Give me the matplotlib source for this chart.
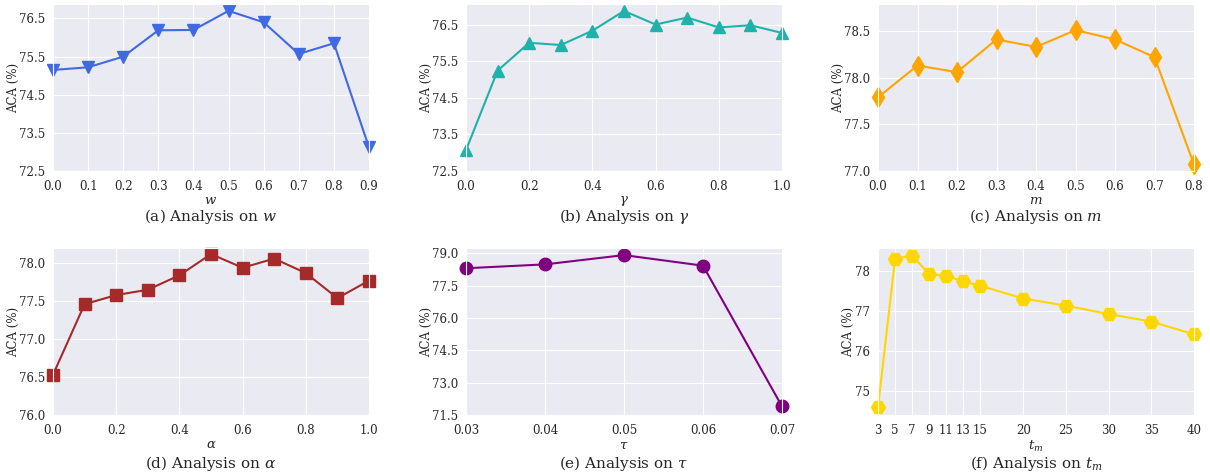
import matplotlib
matplotlib.use("Agg")
import matplotlib.pyplot as plt
import seaborn as sns

sns.set_style("darkgrid")
plt.rcParams["font.family"] = ["DejaVu Serif"]
plt.rcParams["mathtext.fontset"] = "dejavuserif"

# (a) w
w_x = [0.0, 0.1, 0.2, 0.3, 0.4, 0.5, 0.6, 0.7, 0.8, 0.9]
w_y = [75.15, 75.22, 75.50, 76.19, 76.20, 76.70, 76.40, 75.57, 75.85, 73.12]
# (b) gamma
g_x = [0.0, 0.1, 0.2, 0.3, 0.4, 0.5, 0.6, 0.7, 0.8, 0.9, 1.0]
g_y = [73.07, 75.24, 76.00, 75.94, 76.33, 76.87, 76.50, 76.69, 76.42, 76.48, 76.27]
# (c) m
m_x = [0.0, 0.1, 0.2, 0.3, 0.4, 0.5, 0.6, 0.7, 0.8]
m_y = [77.79, 78.13, 78.06, 78.41, 78.33, 78.51, 78.41, 78.22, 77.07]
# (d) alpha
a_x = [0.0, 0.1, 0.2, 0.3, 0.4, 0.5, 0.6, 0.7, 0.8, 0.9, 1.0]
a_y = [76.53, 77.46, 77.58, 77.65, 77.84, 78.12, 77.94, 78.06, 77.87, 77.54, 77.77]
# (e) tau
t_x = [0.03, 0.04, 0.05, 0.06, 0.07]
t_y = [78.31, 78.49, 78.92, 78.43, 71.90]
# (f) t_m
tm_x = [3, 5, 7, 9, 11, 13, 15, 20, 25, 30, 35, 40]
tm_y = [74.58, 78.32, 78.40, 77.93, 77.89, 77.75, 77.64, 77.32, 77.14, 76.93, 76.74, 76.42]

panels = [
    (w_x, w_y, "v", 9, "royalblue", r"$w$", "(a) Analysis on $w$",
     w_x, [72.5, 73.5, 74.5, 75.5, 76.5], (72.5, 76.88)),
    (g_x, g_y, "^", 9, "lightseagreen", r"$\gamma$", r"(b) Analysis on $\gamma$",
     [0.0, 0.2, 0.4, 0.6, 0.8, 1.0], [72.5, 73.5, 74.5, 75.5, 76.5], (72.5, 77.06)),
    (m_x, m_y, "d", 10.5, "orange", r"$m$", "(c) Analysis on $m$",
     m_x, [77.0, 77.5, 78.0, 78.5], (77.0, 78.79)),
    (a_x, a_y, "s", 9, "brown", r"$\alpha$", r"(d) Analysis on $\alpha$",
     [0.0, 0.2, 0.4, 0.6, 0.8, 1.0], [76.0, 76.5, 77.0, 77.5, 78.0], (76.0, 78.2)),
    (t_x, t_y, "o", 9, "purple", r"$\tau$", r"(e) Analysis on $\tau$",
     t_x, [71.5, 73.0, 74.5, 76.0, 77.5, 79.0], (71.5, 79.25)),
    (tm_x, tm_y, "H", 10, "gold", r"$t_m$", "(f) Analysis on $t_m$",
     tm_x, [75, 76, 77, 78], None),
]

fig = plt.figure(figsize=(12.1, 4.75), dpi=100)
lefts = [53, 466, 878]
tops = [4, 248]
W, H = 1210, 475
for i, (x, y, mk, ms, col, xl, cap, xt, yt, yl) in enumerate(panels):
    r, c = divmod(i, 3)
    ax = fig.add_axes([lefts[c] / W, 1 - (tops[r] + 167) / H, 316 / W, 167 / H])
    ax.plot(x, y, marker=mk, color=col, lw=1.5, ms=ms, clip_on=False)
    ax.set_xlim(x[0], x[-1])
    if yl is not None:
        ax.set_ylim(*yl)
    ax.set_xticks(xt)
    ax.set_yticks(yt)
    if i == 5:
        ax.set_xticklabels([str(v) for v in xt])
        ax.set_yticklabels([str(v) for v in yt])
    elif i == 4:
        ax.set_xticklabels([f"{v:.2f}" for v in xt])
        ax.set_yticklabels([f"{v:.1f}" for v in yt])
    else:
        ax.set_xticklabels([f"{v:.1f}" for v in xt])
        ax.set_yticklabels([f"{v:.1f}" for v in yt])
    ax.tick_params(axis="y", labelsize=8.5, pad=2)
    ax.tick_params(axis="x", labelsize=8.5, pad=3)
    ax.set_ylabel("ACA (%)", fontsize=8.5)
    ax.yaxis.set_label_coords(-0.073 if i == 5 else -0.104, 0.5)
    ax.set_xlabel(xl, fontsize=9.5, labelpad=1)
    ax.text(0.5, -0.275 if r == 0 else -0.29, cap, transform=ax.transAxes,
            ha="center", va="center", fontsize=11)

fig.savefig("out.png", dpi=100)
